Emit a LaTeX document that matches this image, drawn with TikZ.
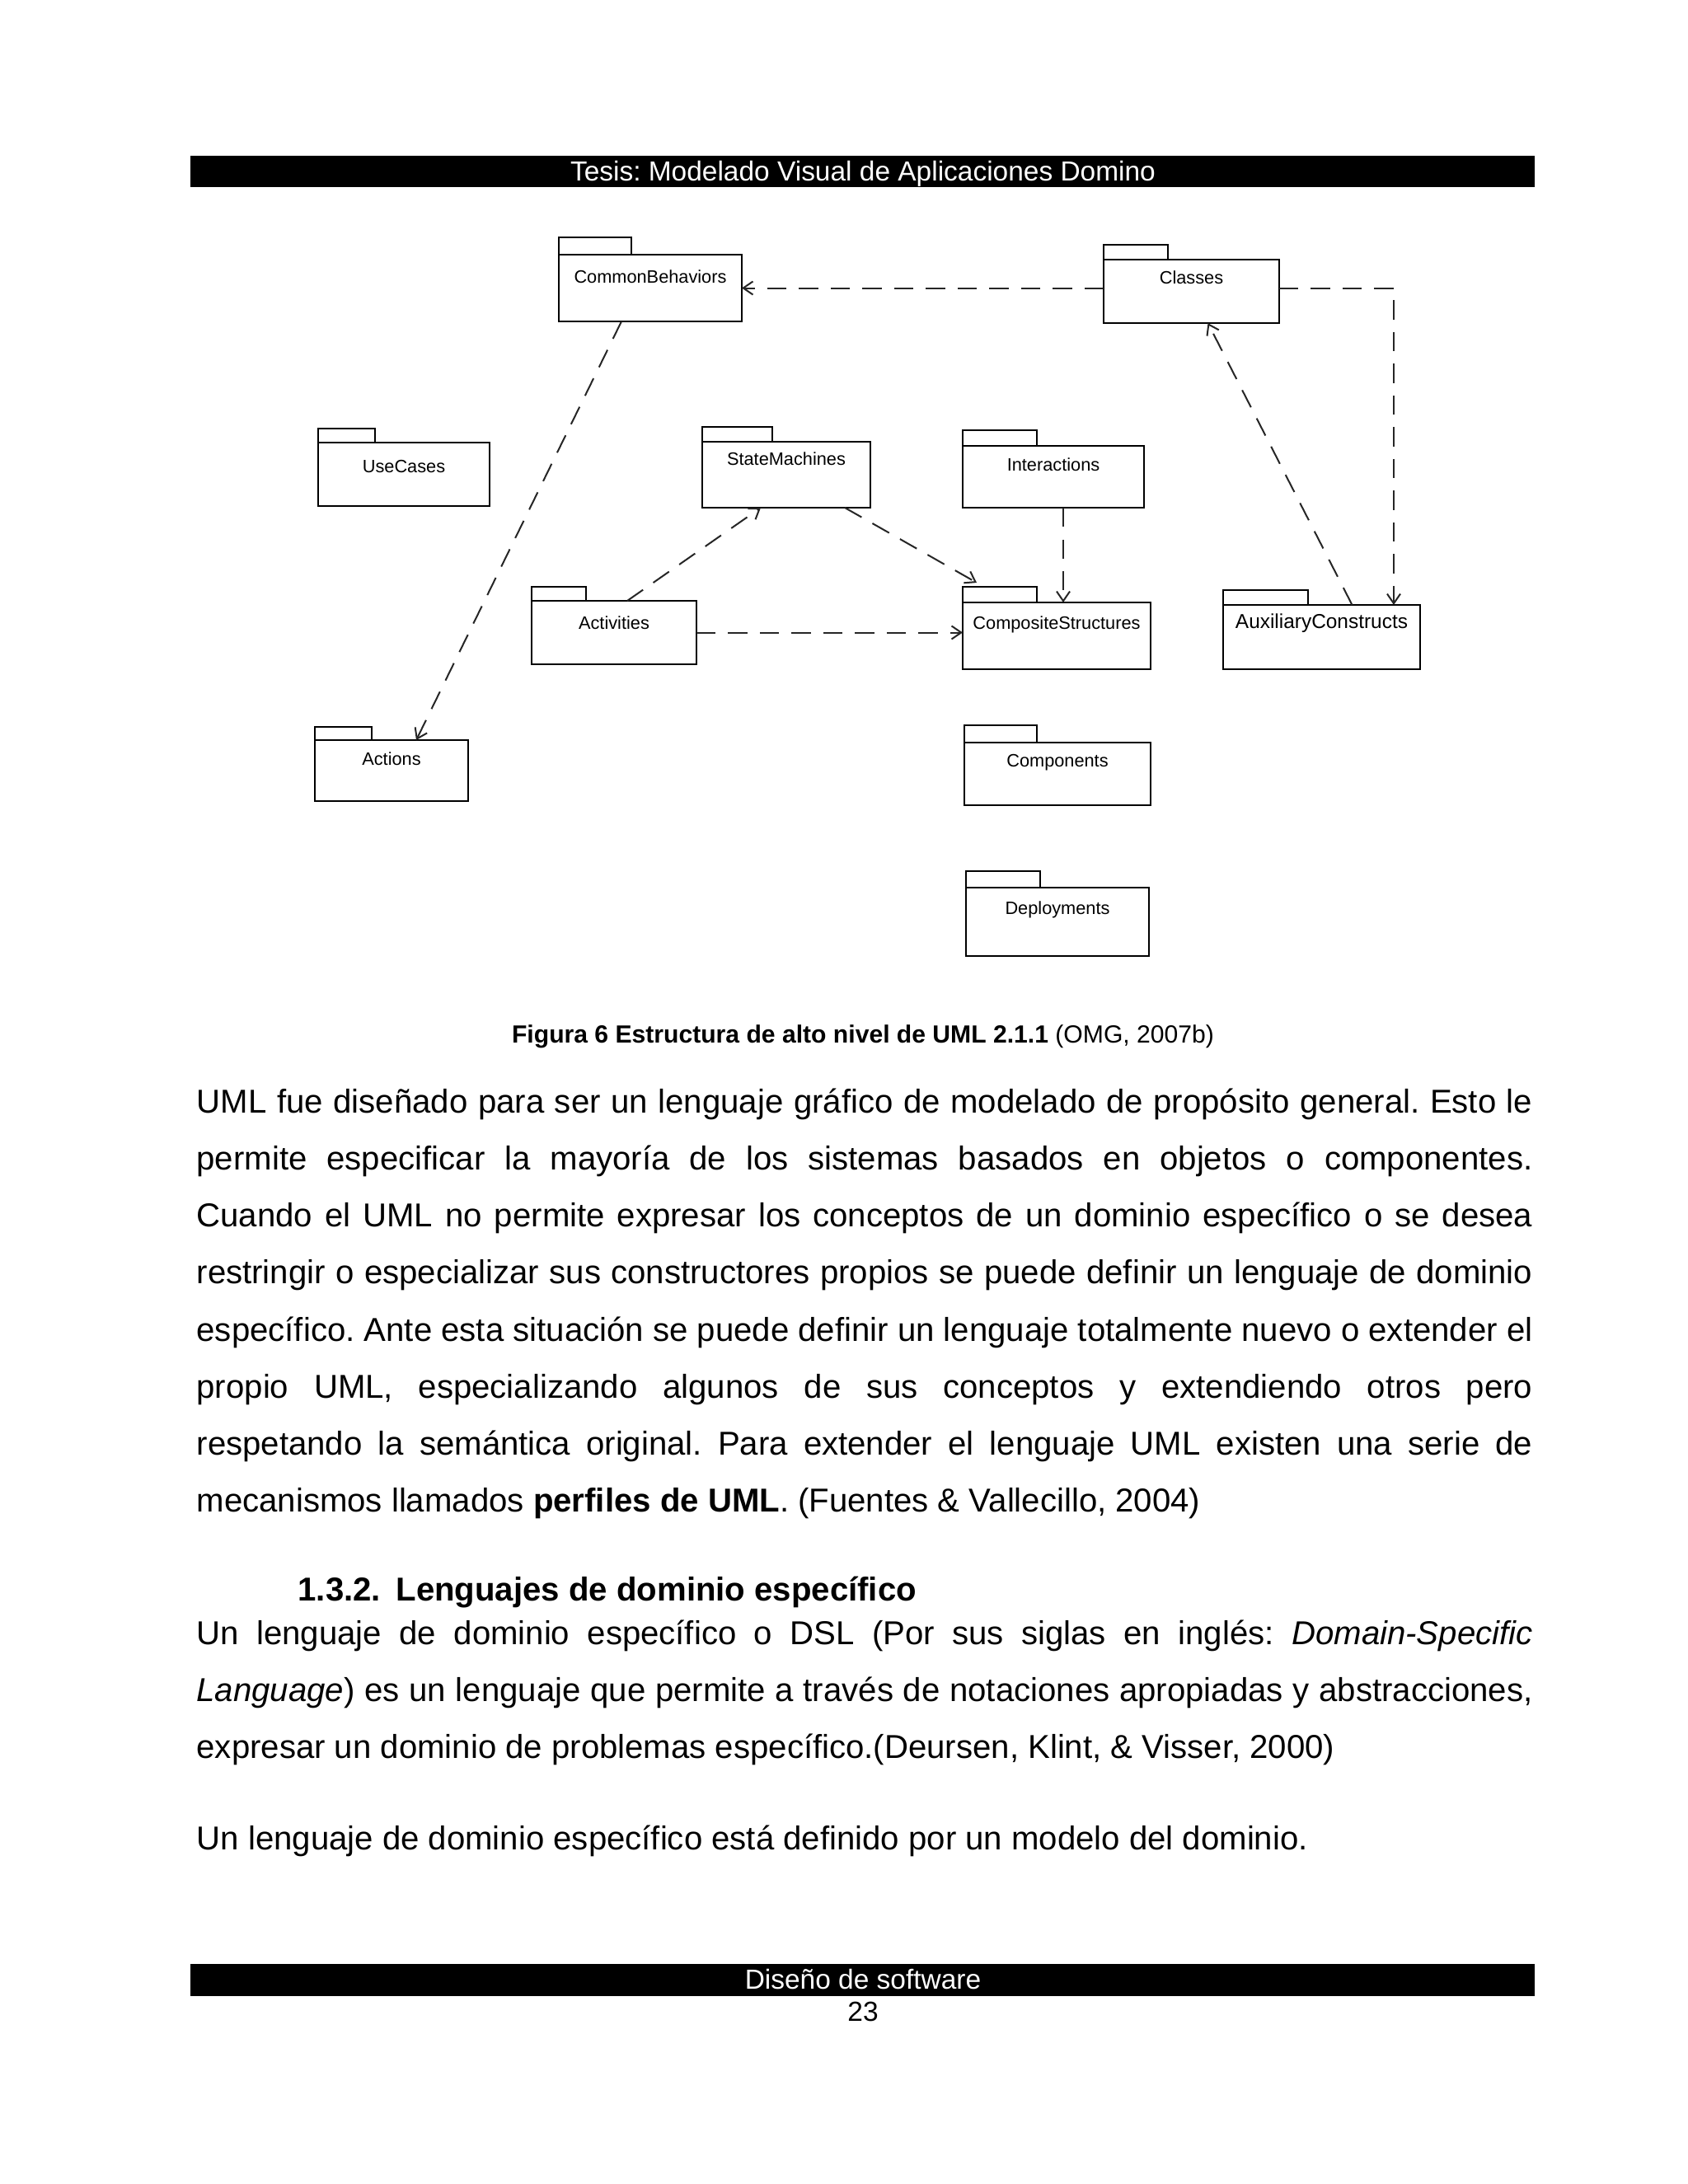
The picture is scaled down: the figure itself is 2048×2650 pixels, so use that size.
\documentclass[tikz,border=0pt]{standalone}
\usepackage{fontspec}
\setmainfont{Liberation Sans}
\usetikzlibrary{arrows.meta, positioning, fit, calc}
\hyphenpenalty=10000
\exhyphenpenalty=10000
\frenchspacing

\begin{document}
\begin{tikzpicture}[
    x=0.29885pt, y=-0.29885pt,
    every node/.style={font=\fontsize{6.5}{7.5}\selectfont},
    pkg/.style={rectangle, draw=black, line width=0.75pt, inner sep=0pt, outer sep=0pt},
    tabline/.style={draw=black, line width=0.75pt},
    pkgtext/.style={anchor=base, inner sep=0pt},
    depline/.style={draw=black!85, line width=0.6pt, dash pattern=on 7pt off 4.5pt, -{Straight Barb[length=3.5pt, width=4.8pt]}},
    barra/.style={rectangle, fill=black, inner sep=0pt, outer sep=0pt},
    bartext/.style={anchor=base, inner sep=0pt, text=white, font=\fontsize{10}{12}\selectfont},
    pie/.style={anchor=base, inner sep=0pt, font=\fontsize{10}{12}\selectfont},
    capt/.style={anchor=base, inner sep=0pt, font=\fontsize{9}{11}\selectfont},
    cuerpo/.style={anchor=base west, inner sep=0pt, text width=484.4pt, align=justify, font=\fontsize{12}{20.7}\selectfont},
    titulo/.style={anchor=base west, inner sep=0pt, font=\fontsize{12}{14}\selectfont\bfseries}
]
\useasboundingbox (0,0) rectangle (2048,2650);

% Encabezado
\node[barra, fit={(231,189) (1862,227)}] (hdrbar) {};
\node[bartext] (hdr) at (1047,219) {Tesis: Modelado Visual de Aplicaciones Domino};

% Paquetes: nombre/x1/y1/x2/y2/pestana/alto pestana/base texto/tamano/texto
\foreach \n/\xa/\ya/\xb/\yb/\tw/\th/\dy/\fs/\txt in {
    cb/678/309/900/390/88/21/34/6.5/CommonBehaviors,
    cls/1339/315/1552/392/78/18/29/6.5/Classes,
    uc/386/537/594/614/69/17/36/6.5/UseCases,
    sm/852/536/1056/616/85/18/28/6.5/StateMachines,
    int/1168/541/1388/616/90/19/30/6.5/Interactions,
    acts/645/729/845/806/66/17/34/6.5/Activities,
    cs/1168/731/1396/812/90/19/32/6.5/CompositeStructures,
    aux/1484/734/1723/812/103/18/28/7.3/AuxiliaryConstructs,
    act/382/898/568/972/69/16/30/6.5/Actions,
    comp/1170/901/1396/977/88/21/29/6.5/Components,
    depl/1172/1077/1394/1160/90/20/32/6.5/Deployments} {
  \node[pkg, fit={(\xa,\ya) (\xb,\yb)}] (\n) {};
  \draw[tabline] (\n.north west) rectangle ++(\tw,-\th);
  \node[pkgtext, font=\fontsize{\fs}{\fs}\selectfont] (\n-txt) at ($(\n.north)+(0,\dy)$) {\txt};
}

% Dependencias
\draw[depline] (cls.west |- cb.east) -- (cb.east);
\draw[depline] (cls.east |- cb.east) -| ($(aux.north east)+(-32,0)$);
\draw[depline] ($(cb.south)+(-35,0)$) -- ($(act.north)+(30,0)$);
\draw[depline] ($(acts.north)+(16,0)$) -- ($(sm.south)+(-31,0)$);
\draw[depline] ($(sm.south)+(71,0)$) -- ($(cs.north west)+(17,-24)$);
\draw[depline] (acts.east) -- (acts.east -| cs.west);
\coordinate (intbot) at ($(int.south)+(12,0)$);
\draw[depline] (intbot) -- (intbot |- cs.north);
\draw[depline] ($(aux.north)+(37,0)$) -- ($(cls.south)+(20,0)$);

% Pie de figura
\node[capt] (cap) at (1047,1265) {{\bfseries Figura 6 Estructura de alto nivel de UML 2.1.1} (OMG, 2007b)};

% Texto
\node[cuerpo] (par1) at (238,1350) {\noindent UML fue diseñado para ser un lenguaje gráfico de modelado de propósito general. Esto le\linebreak
permite especificar la mayoría de los sistemas basados en objetos o componentes.\linebreak
Cuando el UML no permite expresar los conceptos de un dominio específico o se desea\linebreak
restringir o especializar sus constructores propios se puede definir un lenguaje de dominio\linebreak
específico. Ante esta situación se puede definir un lenguaje totalmente nuevo o extender el\linebreak
propio UML, especializando algunos de sus conceptos y extendiendo otros pero\linebreak
respetando la semántica original. Para extender el lenguaje UML existen una serie de\linebreak
mecanismos llamados \textbf{perfiles de UML}. (Fuentes \& Vallecillo, 2004)};

\node[titulo] (sec) at (361,1942) {1.3.2.\hspace{5.5pt}Lenguajes de dominio específico};

\node[cuerpo] (par2) at (238,1995) {\noindent Un lenguaje de dominio específico o DSL (Por sus siglas en inglés: \textit{Domain-Specific}\linebreak
\textit{Language}) es un lenguaje que permite a través de notaciones apropiadas y abstracciones,\linebreak
expresar un dominio de problemas específico.(Deursen, Klint, \& Visser, 2000)};

\node[cuerpo] (par3) at (238,2244) {\noindent Un lenguaje de dominio específico está definido por un modelo del dominio.};

% Pie de pagina
\node[barra, fit={(231,2383) (1862,2422)}] (ftbar) {};
\node[bartext] (ft) at (1047,2413) {Diseño de software};
\node[pie] (pag) at (1047,2452) {23};

\end{tikzpicture}
\end{document}
